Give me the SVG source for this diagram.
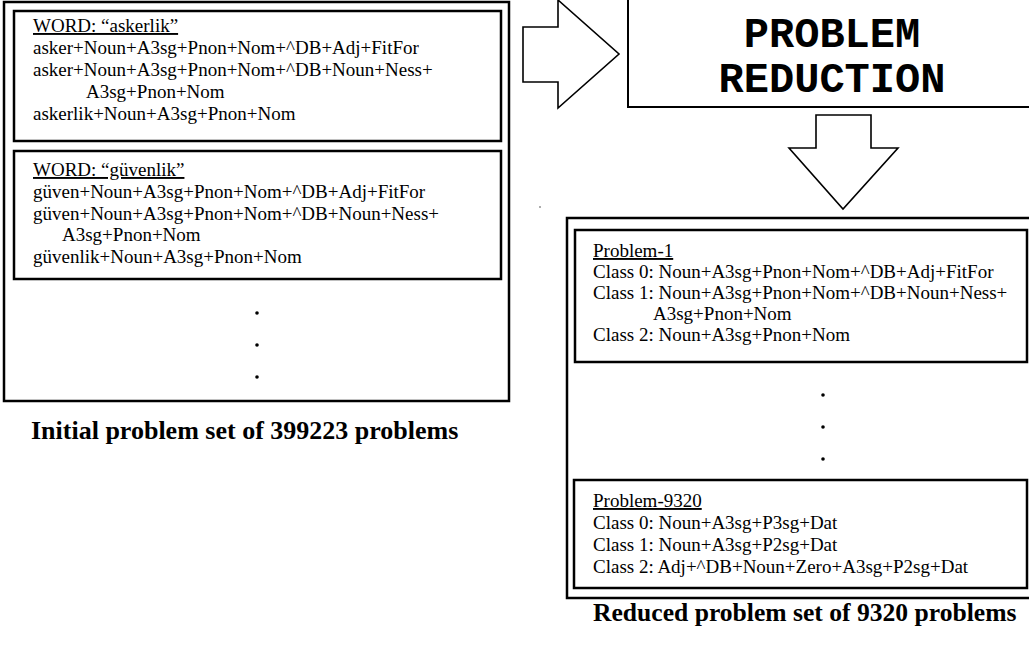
<svg xmlns="http://www.w3.org/2000/svg" width="1029" height="645" viewBox="0 0 1029 645">
<style>
.box{fill:#fff;stroke:#000;stroke-width:2.5}
.ibox{fill:#fff;stroke:#000;stroke-width:2.5}
.arr{fill:#fff;stroke:#000;stroke-width:1.6;stroke-linejoin:miter}
.t{font-family:"Liberation Serif","Times New Roman",serif;font-size:19px;fill:#000}
.u{text-decoration:underline}
.cap{font-family:"Liberation Serif","Times New Roman",serif;font-weight:bold;fill:#000}
.mono{font-family:"Liberation Mono","Courier New",monospace;font-size:42px;font-weight:bold;fill:#000}
.dot{fill:#000}
</style>
<rect width="1029" height="645" fill="#fff"/>
<g id="initial-set">
<rect class="box" x="4" y="2" width="505" height="399"/>
<g id="word-askerlik">
<rect class="ibox" x="14" y="11" width="487" height="130"/>
<text class="t u" x="33" y="32">WORD: “askerlik”</text>
<text class="t" x="33" y="54">asker+Noun+A3sg+Pnon+Nom+^DB+Adj+FitFor</text>
<text class="t" x="33" y="76">asker+Noun+A3sg+Pnon+Nom+^DB+Noun+Ness+</text>
<text class="t" x="86" y="98">A3sg+Pnon+Nom</text>
<text class="t" x="33" y="120">askerlik+Noun+A3sg+Pnon+Nom</text>
</g>
<g id="word-guvenlik">
<rect class="ibox" x="14" y="151" width="487" height="128"/>
<text class="t u" x="33" y="176">WORD: “güvenlik”</text>
<text class="t" x="33" y="198">güven+Noun+A3sg+Pnon+Nom+^DB+Adj+FitFor</text>
<text class="t" x="33" y="220">güven+Noun+A3sg+Pnon+Nom+^DB+Noun+Ness+</text>
<text class="t" x="62" y="241">A3sg+Pnon+Nom</text>
<text class="t" x="33" y="263">güvenlik+Noun+A3sg+Pnon+Nom</text>
</g>
<circle class="dot" cx="257" cy="313" r="1.8"/>
<circle class="dot" cx="257" cy="345" r="1.8"/>
<circle class="dot" cx="257" cy="377" r="1.8"/>
<text class="cap" x="31" y="439" font-size="26">Initial problem set of 399223 problems</text>
</g>
<g id="problem-reduction">
<rect fill="#fff" stroke="#000" stroke-width="2" x="628" y="-5" width="410" height="112"/>
<text class="mono" x="832" y="47" text-anchor="middle">PROBLEM</text>
<text class="mono" x="832" y="92" text-anchor="middle">REDUCTION</text>
</g>
<g id="connectors">
<polygon class="arr" points="523,27 558,27 558,0 619,54 558,108 558,82 523,82"/>
<polygon class="arr" points="816,115 871,115 871,148 898,148 843,209 789,148 816,148"/>
</g>
<circle cx="540" cy="207" r="0.8" fill="#444"/>
<g id="reduced-set">
<rect class="box" x="567" y="218" width="466" height="380"/>
<g id="problem-1">
<rect class="ibox" x="575" y="230" width="452" height="132"/>
<text class="t u" x="593" y="257">Problem-1</text>
<text class="t" x="593" y="278">Class 0: Noun+A3sg+Pnon+Nom+^DB+Adj+FitFor</text>
<text class="t" x="593" y="299">Class 1: Noun+A3sg+Pnon+Nom+^DB+Noun+Ness+</text>
<text class="t" x="653" y="320">A3sg+Pnon+Nom</text>
<text class="t" x="593" y="341">Class 2: Noun+A3sg+Pnon+Nom</text>
</g>
<circle class="dot" cx="823" cy="395" r="1.8"/>
<circle class="dot" cx="823" cy="427" r="1.8"/>
<circle class="dot" cx="823" cy="459" r="1.8"/>
<g id="problem-9320">
<rect class="ibox" x="574" y="480" width="453" height="108"/>
<text class="t u" x="593" y="507">Problem-9320</text>
<text class="t" x="593" y="529">Class 0: Noun+A3sg+P3sg+Dat</text>
<text class="t" x="593" y="551">Class 1: Noun+A3sg+P2sg+Dat</text>
<text class="t" x="593" y="573">Class 2: Adj+^DB+Noun+Zero+A3sg+P2sg+Dat</text>
</g>
<text class="cap" x="593" y="621" font-size="25.6">Reduced problem set of 9320 problems</text>
</g>
</svg>
